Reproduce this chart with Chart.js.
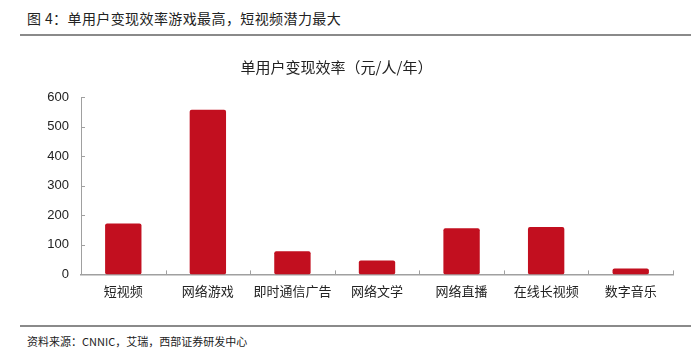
<!DOCTYPE html>
<html>
<head>
<meta charset="utf-8">
<style>
body { margin: 0; width: 691px; height: 352px; background: #fff; position: relative; overflow: hidden; font-family: "Noto Sans CJK SC", sans-serif; }
#head { position: absolute; left: 27px; top: 8px; font-size: 14px; letter-spacing: 0.4px; color: #222; }
#line1 { position: absolute; left: 20px; top: 34px; width: 671px; height: 2px; background: #8a8a8a; }
#line2 { position: absolute; left: 20px; top: 325px; width: 671px; height: 2px; background: #8a8a8a; }
#src { position: absolute; left: 27px; top: 333px; font-size: 11px; color: #222; }
#box { position: absolute; left: 0; top: 45px; width: 691px; height: 263px; }
</style>
</head>
<body>
<div id="head">图 4：单用户变现效率游戏最高，短视频潜力最大</div>
<div id="line1"></div>
<div id="box"><canvas id="myChart"></canvas></div>
<div id="line2"></div>
<div id="src">资料来源：CNNIC，艾瑞，西部证券研发中心</div>

<script src="https://cdn.jsdelivr.net/npm/chart.js"></script>
<script>
var categories = ['短视频', '网络游戏', '即时通信广告', '网络文学', '网络直播', '在线长视频', '数字音乐'];
var values = [172, 557, 78, 47, 156, 160, 20];
var yTicks = [0, 100, 200, 300, 400, 500, 600];

var axisColor = '#a0a0a0';

// ticks drawn toward the inside of the plot, like the original
var innerTicks = {
    id: 'innerTicks',
    afterDraw: function(chart){
        var ctx = chart.ctx;
        var x = chart.scales.x, y = chart.scales.y;
        ctx.save();
        ctx.strokeStyle = axisColor;
        ctx.lineWidth = 1;
        ctx.beginPath();
        for(var v of yTicks){
            var py = Math.round(y.getPixelForValue(v)) + 0.5;
            ctx.moveTo(y.right, py);
            ctx.lineTo(y.right + 4, py);
        }
        for(var i = 0; i <= categories.length; i++){
            var px = Math.round(x.getPixelForValue(i - 0.5)) + 0.5;
            ctx.moveTo(px, x.top);
            ctx.lineTo(px, x.top - 4);
        }
        ctx.stroke();
        ctx.restore();
    }
};

var ctx = document.getElementById('myChart').getContext('2d');
var myChart = new Chart(ctx, {
    type: 'bar',
    data: {
        labels: categories,
        datasets: [{
            data: values,
            backgroundColor: '#c20f1f',
            borderRadius: 2,
            borderSkipped: false,
            barPercentage: 0.43,
            categoryPercentage: 1
        }]
    },
    options: {
        animation: false,
        responsive: true,
        maintainAspectRatio: false,
        layout: { padding: { left: 0, right: 18, top: 0, bottom: 0 } },
        plugins: {
            legend: { display: false },
            tooltip: { enabled: false },
            title: {
                display: true,
                text: '单用户变现效率（元/人/年）',
                color: '#222',
                font: { family: '"Noto Sans CJK SC"', size: 15, weight: 'normal' },
                padding: { top: 13, bottom: 21 }
            }
        },
        scales: {
            x: {
                grid: { display: false, drawTicks: false },
                border: { color: axisColor, width: 1.5 },
                ticks: { color: '#222', padding: 9, font: { family: '"Noto Sans CJK SC"', size: 13 } }
            },
            y: {
                min: 0, max: 600,
                afterBuildTicks: function(scale){ scale.ticks = yTicks.map(function(v){ return {value: v}; }); },
                afterFit: function(scale){ scale.width = 81; },
                grid: { display: false, drawTicks: false },
                border: { color: axisColor, width: 1 },
                ticks: { color: '#222', padding: 12, font: { family: 'Liberation Sans', size: 13 } }
            }
        }
    },
    plugins: [innerTicks]
});
</script>
</body>
</html>
